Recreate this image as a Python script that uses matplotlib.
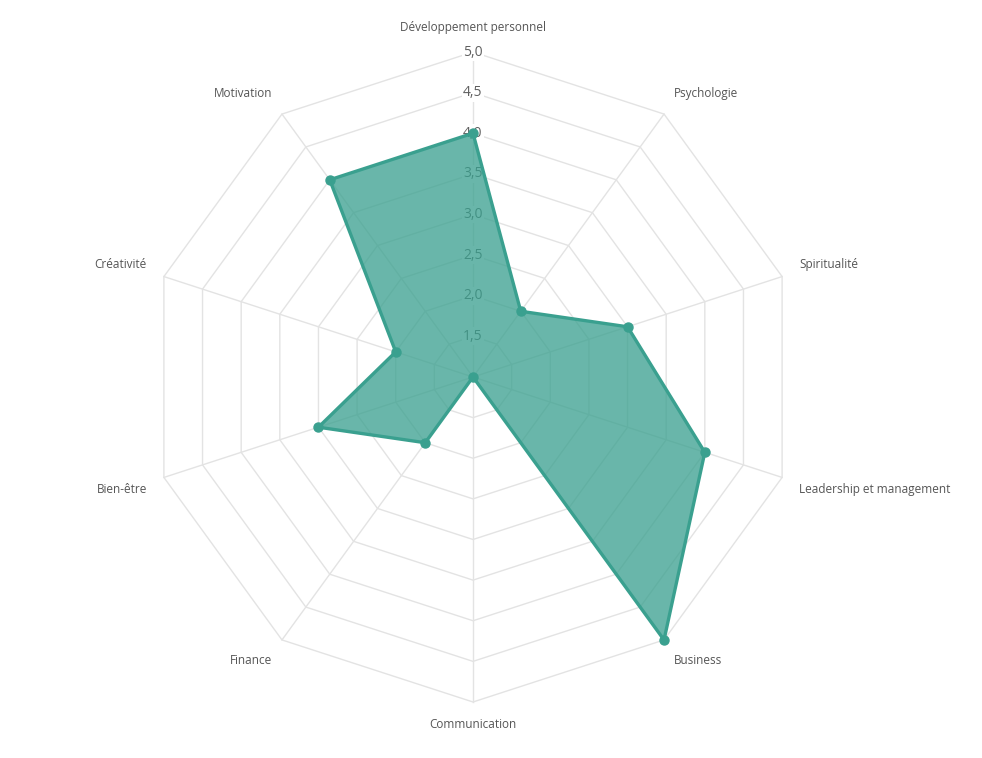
import numpy as np
import matplotlib
matplotlib.use("Agg")
import matplotlib.pyplot as plt

categories = ["Développement personnel", "Psychologie", "Spiritualité",
              "Leadership et management", "Business", "Communication",
              "Finance", "Bien-être", "Créativité", "Motivation"]
values = [4.0, 2.0, 3.0, 4.0, 5.0, 1.0, 2.0, 3.0, 2.0, 4.0]
tick_values = [1.5, 2.0, 2.5, 3.0, 3.5, 4.0, 4.5, 5.0]
tick_labels = ["1,5", "2,0", "2,5", "3,0", "3,5", "4,0", "4,5", "5,0"]
r_min, r_max = 1.0, 5.0

plt.rcParams['font.family'] = ['Open Sans', 'DejaVu Sans']

W, H = 982, 758
fig = plt.figure(figsize=(W / 100, H / 100), dpi=100)
cx, cy, R = 473, 377, 325
ax = fig.add_axes([(cx - R) / W, (H - cy - R) / H, 2 * R / W, 2 * R / H], projection='polar')
ax.set_theta_zero_location('N')
ax.set_theta_direction(-1)
ax.set_ylim(r_min, r_max)
ax.grid(False)
ax.spines['polar'].set_visible(False)
ax.set_xticks([])
ax.set_yticks([])
ax.patch.set_alpha(0)

n = len(categories)
angles = np.linspace(0, 2 * np.pi, n, endpoint=False)
closed = np.concatenate([angles, angles[:1]])

grid_col = '#e3e3e3'
for tv in tick_values:
    ax.plot(closed, [tv] * (n + 1), color=grid_col, lw=1.0, zorder=1, clip_on=False)
for a in angles:
    ax.plot([a, a], [r_min, r_max], color=grid_col, lw=1.0, zorder=1, clip_on=False)

for tv, tl in zip(tick_values, tick_labels):
    ax.text(0, tv, tl, ha='center', va='center', fontsize=10, color='#5f5f5f', zorder=2,
            bbox=dict(boxstyle='square,pad=0.1', fc='white', ec='none'), clip_on=False)

vals = values + values[:1]
line_col = '#3aa08f'
ax.fill(closed, vals, color=line_col, alpha=0.76, zorder=3, lw=0)
ax.plot(closed, vals, color=line_col, lw=2.4, zorder=4, clip_on=False)
ax.plot(angles, values, 'o', color=line_col, ms=6.5, zorder=5, clip_on=False)

# category labels: pixel offsets from the outer vertex by angle step
off_x = {0: 0, 1: 10, 2: 17, 3: 17, 4: 10, 5: 0}
off_y = {0: 25, 1: 21, 2: 12, 3: -12, 4: -21, 5: -23}
for i, (a, c) in enumerate(zip(angles, categories)):
    k = i if i <= 5 else 10 - i
    sgn = 1 if i <= 5 else -1
    if k in (0, 5):
        ha = 'center'
    elif sgn > 0:
        ha = 'left'
    else:
        ha = 'right'
    dx = sgn * off_x[k] * 0.72
    dy = off_y[k] * 0.72
    ax.annotate(c, xy=(a, r_max), xytext=(dx, dy), textcoords='offset points',
                ha=ha, va='center', fontsize=8.5, color='#555555', annotation_clip=False)

fig.savefig('out.png', dpi=100, facecolor='white')
